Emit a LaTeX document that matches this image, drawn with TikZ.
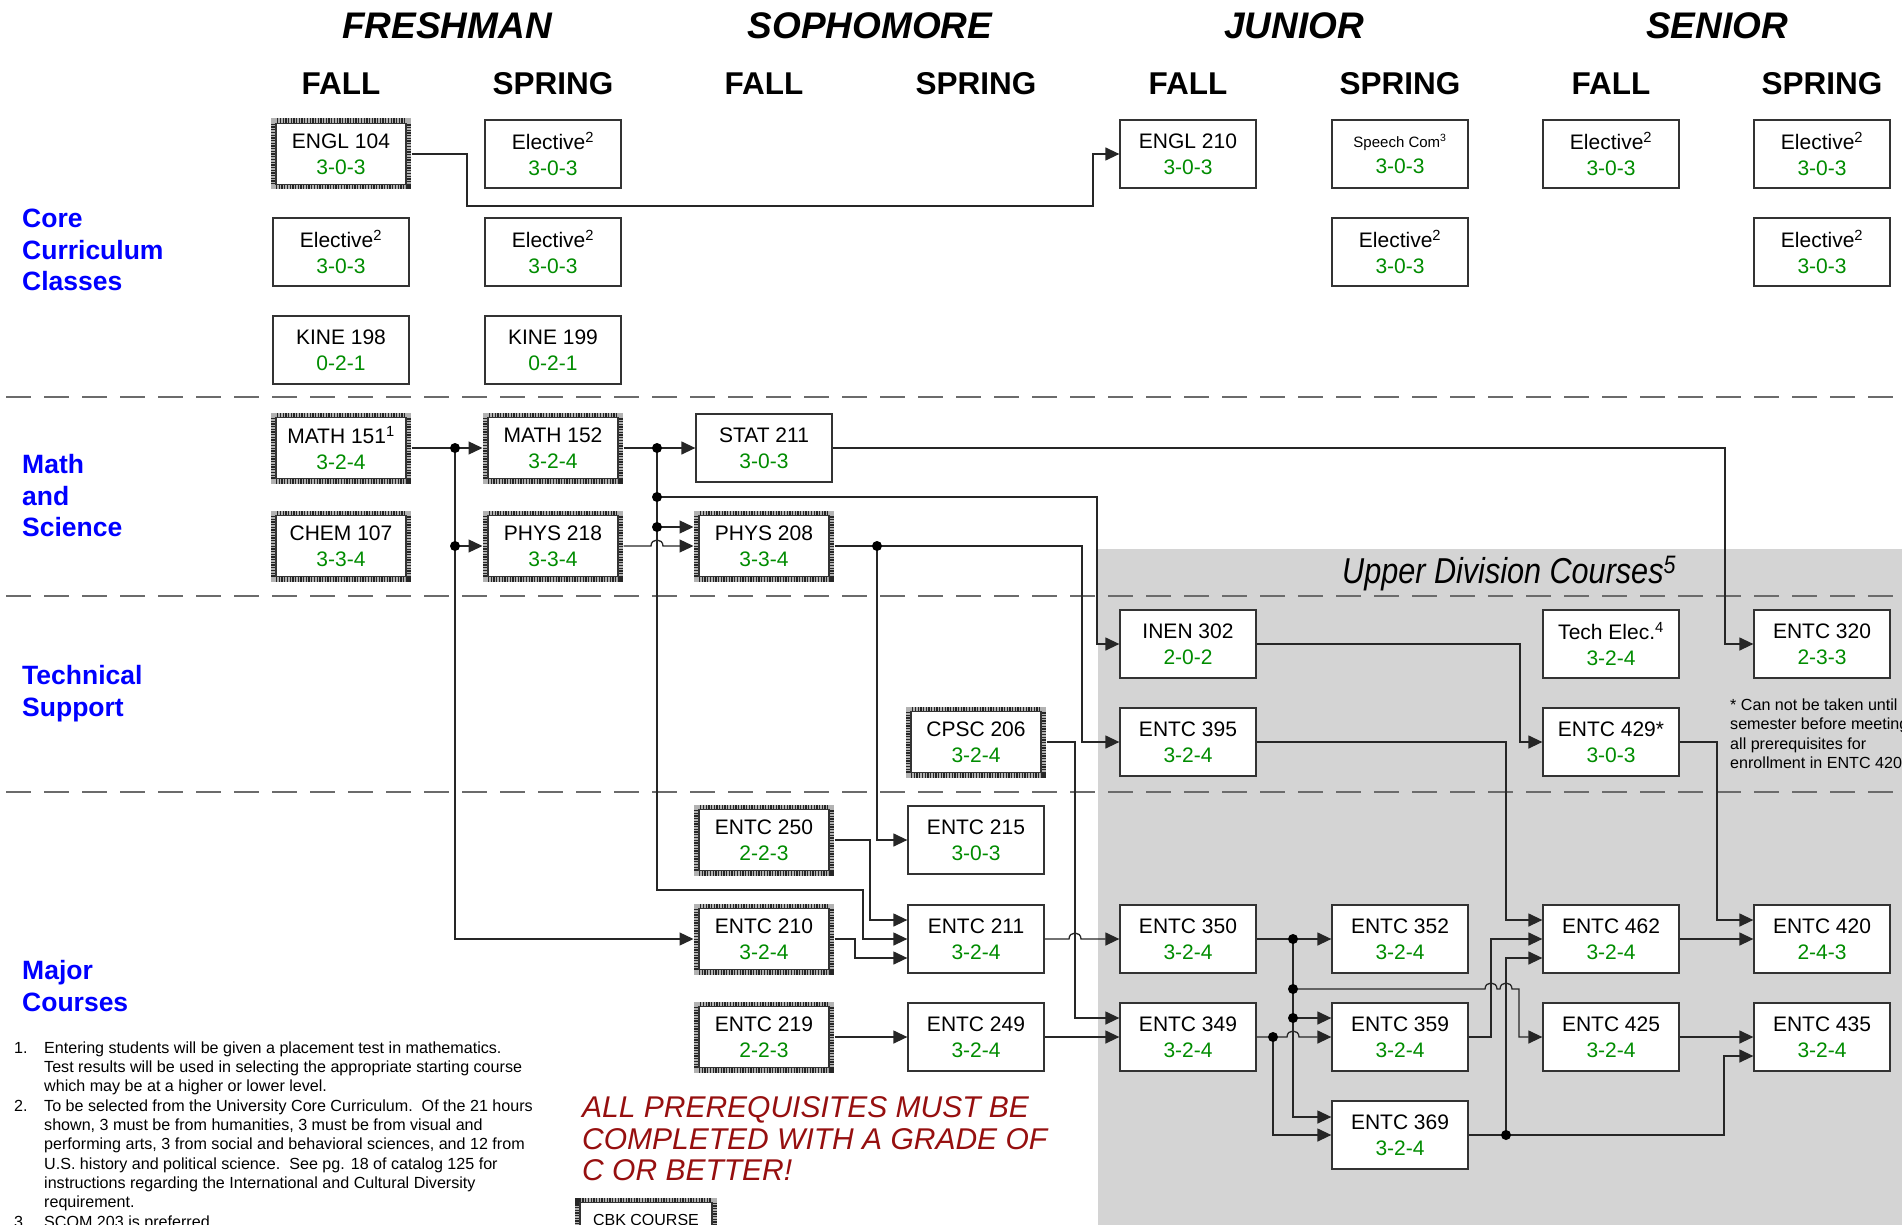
\documentclass[tikz,border=0pt]{standalone}
\usepackage{fontspec}
\setmainfont{Liberation Sans}
\newfontfamily\narrowsans[FakeStretch=0.85]{Liberation Sans}
\usetikzlibrary{arrows.meta,calc}
\definecolor{cgreen}{RGB}{0,140,0}
\definecolor{cblue}{RGB}{0,0,255}
\definecolor{cred}{RGB}{150,15,15}
\definecolor{upperbg}{RGB}{212,212,212}
\newcommand{\crs}[2]{#1\\\textcolor{cgreen}{#2}}
\begin{document}
\begin{tikzpicture}[x=1pt,y=-1pt,
 box/.style={draw=black!80, line width=1.3pt, fill=white, minimum width=136pt, minimum height=68pt, inner sep=0pt, align=center, font=\fontsize{21}{26}\selectfont},
 hbox/.style={box, minimum width=130pt, minimum height=61pt, outer sep=5.5pt,
   preaction={draw=black!30, line width=10pt},
   preaction={draw=black!85, line width=10pt, dash pattern=on 1.3pt off 1.4pt}},
 conn/.style={draw=black!85, line width=1.3pt},
 arr/.style={conn, -{Triangle[length=14pt,width=13pt]}},
 divline/.style={line width=2.6pt, draw=black!58, dash pattern=on 25pt off 13pt},
 yearlab/.style={font=\fontsize{37}{40}\selectfont\bfseries\itshape, inner sep=0pt, anchor=base},
 semlab/.style={font=\fontsize{31.5}{34}\selectfont\bfseries, inner sep=0pt, anchor=base},
 lab/.style={font=\fontsize{26.5}{31}\selectfont\bfseries, text=cblue, inner sep=0pt, anchor=base west},
 note/.style={font=\fontsize{16.1}{19}\selectfont, inner sep=0pt, anchor=base west},
 redlab/.style={font=\fontsize{30}{32}\selectfont\itshape, text=cred, inner sep=0pt, anchor=base west},
 jdot/.style={fill=black}
]
\useasboundingbox (0,0) rectangle (1902,1225);
\clip (0,0) rectangle (1902,1225);

% upper division background
\fill[upperbg] (1098,549) rectangle (1902,1225);
\node[font=\narrowsans\fontsize{36}{40}\selectfont\itshape, inner sep=0pt, anchor=base west] (udc) at (1342,583) {Upper Division Courses\textsuperscript{5}};

% divider lines
\draw[divline] (6,397) -- (1902,397);
\draw[divline] (6,596) -- (1902,596);
\draw[divline] (6,792) -- (1902,792);

% headings
\node[yearlab] (yfr) at (447,39) {FRESHMAN};
\node[yearlab] (yso) at (870,39) {SOPHOMORE};
\node[yearlab] (yju) at (1294,39) {JUNIOR};
\node[yearlab] (yse) at (1717,39) {SENIOR};
\node[semlab] (s1) at (341,95) {FALL};
\node[semlab] (s2) at (553,95) {SPRING};
\node[semlab] (s3) at (764,95) {FALL};
\node[semlab] (s4) at (976,95) {SPRING};
\node[semlab] (s5) at (1188,95) {FALL};
\node[semlab] (s6) at (1400,95) {SPRING};
\node[semlab] (s7) at (1611,95) {FALL};
\node[semlab] (s8) at (1822,95) {SPRING};

% left labels
\node[lab] (lc1) at (22,227) {Core};
\node[lab] (lc2) at (22,259) {Curriculum};
\node[lab] (lc3) at (22,290) {Classes};
\node[lab] (lm1) at (22,473) {Math};
\node[lab] (lm2) at (22,505) {and};
\node[lab] (lm3) at (22,536) {Science};
\node[lab] (lt1) at (22,684) {Technical};
\node[lab] (lt2) at (22,716) {Support};
\node[lab] (lj1) at (22,979) {Major};
\node[lab] (lj2) at (22,1011) {Courses};

% core courses
\node[hbox] (engl104) at (341,154) {\crs{ENGL 104}{3-0-3}};
\node[box] (elA) at (553,154) {\crs{Elective\textsuperscript{2}}{3-0-3}};
\node[box] (engl210) at (1188,154) {\crs{ENGL 210}{3-0-3}};
\node[box] (speech) at (1400,154) {\crs{{\fontsize{15}{18}\selectfont Speech Com\textsuperscript{3}}}{3-0-3}};
\node[box] (elB) at (1611,154) {\crs{Elective\textsuperscript{2}}{3-0-3}};
\node[box] (elC) at (1822,154) {\crs{Elective\textsuperscript{2}}{3-0-3}};
\node[box] (elD) at (341,252) {\crs{Elective\textsuperscript{2}}{3-0-3}};
\node[box] (elE) at (553,252) {\crs{Elective\textsuperscript{2}}{3-0-3}};
\node[box] (elF) at (1400,252) {\crs{Elective\textsuperscript{2}}{3-0-3}};
\node[box] (elG) at (1822,252) {\crs{Elective\textsuperscript{2}}{3-0-3}};
\node[box] (kine198) at (341,350) {\crs{KINE 198}{0-2-1}};
\node[box] (kine199) at (553,350) {\crs{KINE 199}{0-2-1}};

% math and science
\node[hbox] (math151) at (341,448) {\crs{MATH 151\textsuperscript{1}}{3-2-4}};
\node[hbox] (math152) at (553,448) {\crs{MATH 152}{3-2-4}};
\node[box] (stat211) at (764,448) {\crs{STAT 211}{3-0-3}};
\node[hbox] (chem107) at (341,546) {\crs{CHEM 107}{3-3-4}};
\node[hbox] (phys218) at (553,546) {\crs{PHYS 218}{3-3-4}};
\node[hbox] (phys208) at (764,546) {\crs{PHYS 208}{3-3-4}};

% technical support
\node[box] (inen302) at (1188,644) {\crs{INEN 302}{2-0-2}};
\node[box] (techel) at (1611,644) {\crs{Tech Elec.\textsuperscript{4}}{3-2-4}};
\node[box] (entc320) at (1822,644) {\crs{ENTC 320}{2-3-3}};
\node[hbox] (cpsc206) at (976,742) {\crs{CPSC 206}{3-2-4}};
\node[box] (entc395) at (1188,742) {\crs{ENTC 395}{3-2-4}};
\node[box] (entc429) at (1611,742) {\crs{ENTC 429*}{3-0-3}};

% major courses
\node[hbox] (entc250) at (764,840) {\crs{ENTC 250}{2-2-3}};
\node[box] (entc215) at (976,840) {\crs{ENTC 215}{3-0-3}};
\node[hbox] (entc210) at (764,939) {\crs{ENTC 210}{3-2-4}};
\node[box] (entc211) at (976,939) {\crs{ENTC 211}{3-2-4}};
\node[box] (entc350) at (1188,939) {\crs{ENTC 350}{3-2-4}};
\node[box] (entc352) at (1400,939) {\crs{ENTC 352}{3-2-4}};
\node[box] (entc462) at (1611,939) {\crs{ENTC 462}{3-2-4}};
\node[box] (entc420) at (1822,939) {\crs{ENTC 420}{2-4-3}};
\node[hbox] (entc219) at (764,1037) {\crs{ENTC 219}{2-2-3}};
\node[box] (entc249) at (976,1037) {\crs{ENTC 249}{3-2-4}};
\node[box] (entc349) at (1188,1037) {\crs{ENTC 349}{3-2-4}};
\node[box] (entc359) at (1400,1037) {\crs{ENTC 359}{3-2-4}};
\node[box] (entc425) at (1611,1037) {\crs{ENTC 425}{3-2-4}};
\node[box] (entc435) at (1822,1037) {\crs{ENTC 435}{3-2-4}};
\node[box] (entc369) at (1400,1135) {\crs{ENTC 369}{3-2-4}};

% CBK legend box
\node[hbox, minimum width=132pt, minimum height=61pt, anchor=north] (cbk) at (646,1197) {};
\node[font=\fontsize{16}{18}\selectfont, inner sep=0pt, anchor=base] (cbktxt) at (646,1225) {CBK COURSE};

% junction coordinates
\coordinate (j1) at (455,448);
\coordinate (j2) at (455,546);
\coordinate (j3) at (657,448);
\coordinate (j4) at (657,497);
\coordinate (j5) at (657,527);
\coordinate (j6) at (877,546);
\coordinate (j7) at (1293,939);
\coordinate (j8) at (1293,989);
\coordinate (j9) at (1293,1018);
\coordinate (j10) at (1273,1037);
\coordinate (j11) at (1506,1135);

% connectors
\draw[arr] (engl104.east) -- (467,154) -- (467,206) -- (1093,206) |- (engl210.west);

\draw[arr] (math151.east) -- (math152.west);
\draw[arr] (j1) |- (entc210.west);
\draw[arr] (j2) -- (phys218.west);

\draw[arr] (math152.east) -- (stat211.west);
\draw[arr] (j3) -- (657,890) -- (863,890) |- (entc211.west);
\draw[arr] (j4) -- (1097,497) |- (inen302.west);
\draw[arr] (j5) -- (j5 -| phys208.west);
\draw[arr] (phys218.east) -- (651,546) .. controls (651,538) and (663,538) .. (663,546) -- (phys208.west);

\draw[arr] (phys208.east) -- (1082,546) |- (entc395.west);
\draw[arr] (j6) |- (entc215.west);

\draw[arr] (stat211.east) -- (1725,448) |- (entc320.west);

\draw[arr] (cpsc206.east) -- (1075,742) |- ($(entc349.west)+(0,-19)$);

\draw[arr] (entc250.east) -- (870,840) |- ($(entc211.west)+(0,-19)$);
\draw[arr] (entc210.east) -- (855,939) |- ($(entc211.west)+(0,19)$);
\draw[arr] (entc211.east) -- (1069,939) .. controls (1069,931) and (1081,931) .. (1081,939) -- (entc350.west);
\draw[arr] (entc219.east) -- (entc249.west);
\draw[arr] (entc249.east) -- (entc349.west);

\draw[arr] (entc350.east) -- (entc352.west);
\draw[arr] (j7) |- ($(entc369.west)+(0,-18)$);
\draw[arr] (j8) -- (1485,989) .. controls (1485,981) and (1497,981) .. (1497,989) -- (1500,989) .. controls (1500,981) and (1512,981) .. (1512,989) -- (1519,989) |- (entc425.west);
\draw[arr] (j9) -- ($(entc359.west)+(0,-19)$);

\draw[arr] (entc349.east) -- (1287,1037) .. controls (1287,1029) and (1299,1029) .. (1299,1037) -- (entc359.west);
\draw[arr] (j10) |- (entc369.west);

\draw[arr] (entc359.east) -- (1491,1037) |- (entc462.west);
\draw[arr] (entc369.east) -- (1724,1135) |- ($(entc435.west)+(0,19)$);
\draw[arr] (j11) |- ($(entc462.west)+(0,19)$);
\draw[arr] (entc395.east) -- (1506,742) |- ($(entc462.west)+(0,-19)$);
\draw[arr] (inen302.east) -- (1520,644) |- (entc429.west);
\draw[arr] (entc429.east) -- (1717,742) |- ($(entc420.west)+(0,-19)$);
\draw[arr] (entc462.east) -- (entc420.west);
\draw[arr] (entc425.east) -- (entc435.west);

% junction dots
\foreach \j in {j1,j2,j3,j4,j5,j6,j7,j8,j9,j10,j11} \fill[jdot] (\j) circle[radius=5pt];

% side note
\node[note] (sn1) at (1730,710) {* Can not be taken until};
\node[note] (sn2) at (1730,729) {semester before meeting};
\node[note] (sn3) at (1730,749) {all prerequisites for};
\node[note] (sn4) at (1730,768) {enrollment in ENTC 420};

% footnotes
\node[note] (f1n) at (14,1053) {1.};
\node[note] (f1a) at (44,1053) {Entering students will be given a placement test in mathematics.};
\node[note] (f1b) at (44,1072) {Test results will be used in selecting the appropriate starting course};
\node[note] (f1c) at (44,1091) {which may be at a higher or lower level.};
\node[note] (f2n) at (14,1111) {2.};
\node[note] (f2a) at (44,1111) {To be selected from the University Core Curriculum.\ \ Of the 21 hours};
\node[note] (f2b) at (44,1130) {shown, 3 must be from humanities, 3 must be from visual and};
\node[note] (f2c) at (44,1149) {performing arts, 3 from social and behavioral sciences, and 12 from};
\node[note] (f2d) at (44,1169) {U.S. history and political science.\ \ See pg. 18 of catalog 125 for};
\node[note] (f2e) at (44,1188) {instructions regarding the International and Cultural Diversity};
\node[note] (f2f) at (44,1207) {requirement.};
\node[note] (f3n) at (14,1227) {3.};
\node[note] (f3a) at (44,1227) {SCOM 203 is preferred.};

% red warning
\node[redlab] (r1) at (582,1117) {ALL PREREQUISITES MUST BE};
\node[redlab] (r2) at (582,1149) {COMPLETED WITH A GRADE OF};
\node[redlab] (r3) at (582,1180) {C OR BETTER!};
\end{tikzpicture}
\end{document}
